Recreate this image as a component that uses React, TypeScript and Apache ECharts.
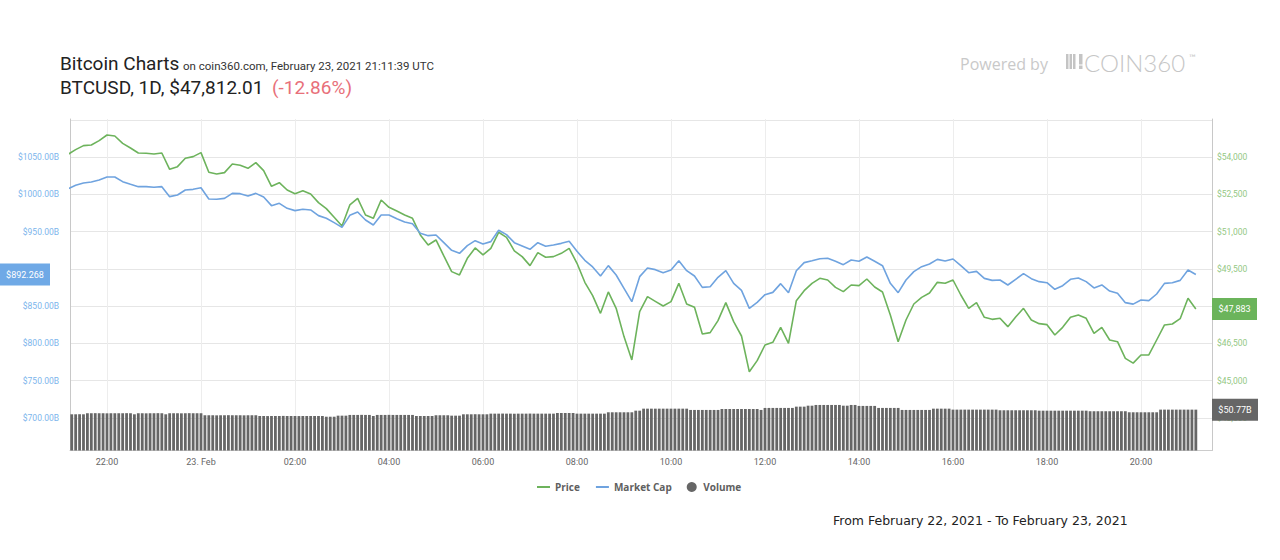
import React, { useEffect, useRef } from "react";
import * as echarts from "echarts";

// ---- time base (UTC, milliseconds) ----
const LINE_START = Date.UTC(2021, 1, 22, 21, 10);
const LINE_STEP_MIN = 10;
const VOLUME_START = Date.UTC(2021, 1, 22, 21, 15);
const VOLUME_STEP_MIN = 5;
const X_MIN = Date.UTC(2021, 1, 22, 21, 12, 47);
const X_MAX = Date.UTC(2021, 1, 23, 21, 30, 38);

// x-axis ticks and their labels
const TICK_TIMES = [
  Date.UTC(2021, 1, 22, 22), Date.UTC(2021, 1, 23, 0), Date.UTC(2021, 1, 23, 2),
  Date.UTC(2021, 1, 23, 4), Date.UTC(2021, 1, 23, 6), Date.UTC(2021, 1, 23, 8),
  Date.UTC(2021, 1, 23, 10), Date.UTC(2021, 1, 23, 12), Date.UTC(2021, 1, 23, 14),
  Date.UTC(2021, 1, 23, 16), Date.UTC(2021, 1, 23, 18), Date.UTC(2021, 1, 23, 20),
];
const TICK_LABELS = ["22:00", "23. Feb", "02:00", "04:00", "06:00", "08:00", "10:00", "12:00", "14:00", "16:00", "18:00", "20:00"];

// axis labels hidden behind the last-value badges
const HIDDEN_MCAP_LABELS = [900];
const HIDDEN_PRICE_LABELS = [48000];

// Price, USD (10-minute samples)
const PRICE = [
  54100, 54296, 54457, 54484, 54658, 54886, 54846, 54551, 54363, 54161,
  54148, 54121, 54161, 53504, 53611, 53947, 54014, 54175, 53383, 53316,
  53370, 53719, 53665, 53544, 53772, 53450, 52819, 52967, 52672, 52524,
  52645, 52511, 52162, 51920, 51571, 51222, 52068, 52336, 51665, 51531,
  52269, 51974, 51826, 51665, 51531, 50860, 50458, 50659, 50015, 49384,
  49250, 49921, 50337, 50055, 50323, 50968, 50766, 50216, 49988, 49625,
  50149, 49961, 49988, 50122, 50323, 49719, 48955, 48418, 47706, 48565,
  47907, 46767, 45830, 47772, 48376, 48188, 48000, 48175, 48913, 48081,
  47947, 46873, 46927, 47410, 48134, 47370, 46792, 45350, 45800, 46430,
  46537, 47141, 46497, 48215, 48618, 48913, 49114, 49047, 48752, 48577,
  48846, 48819, 49087, 48765, 48564, 47638, 46564, 47437, 48081, 48349,
  48524, 48953, 48913, 49047, 48443, 47906, 48134, 47544, 47463, 47504,
  47168, 47557, 47906, 47437, 47289, 47249, 46833, 47141, 47544, 47638,
  47504, 46900, 47141, 46631, 46564, 45893, 45700, 46028, 46028, 46631,
  47236, 47276, 47490, 48309, 47883,
];

// Market cap, billions USD (10-minute samples)
const MARKET_CAP = [
  1007.0, 1012.0, 1015.1, 1016.5, 1019.1, 1023.2, 1023.2, 1016.9, 1013.3, 1010.2,
  1010.2, 1009.3, 1010.2, 996.8, 999.0, 1005.7, 1006.6, 1008.8, 993.6, 993.2,
  994.5, 1001.2, 1000.8, 997.7, 1001.2, 996.3, 984.7, 987.8, 981.1, 978.0,
  979.8, 978.9, 971.3, 967.7, 961.9, 955.6, 971.7, 976.2, 965.4, 958.7,
  972.2, 972.2, 967.2, 962.8, 960.5, 947.6, 944.4, 945.3, 935.0, 924.7,
  920.7, 931.0, 937.7, 933.2, 936.4, 951.6, 945.8, 935.0, 930.6, 926.1,
  935.0, 930.1, 931.9, 934.1, 936.8, 923.4, 911.3, 902.4, 890.3, 904.2,
  891.6, 873.7, 855.8, 889.4, 901.0, 898.8, 894.7, 898.3, 910.8, 897.4,
  890.3, 875.0, 875.9, 888.5, 897.4, 880.4, 871.0, 846.9, 854.9, 865.2,
  868.3, 880.0, 867.9, 897.4, 908.2, 910.8, 913.5, 914.0, 910.0, 905.5,
  911.7, 910.0, 915.8, 910.0, 904.1, 880.4, 867.9, 884.9, 896.1, 902.8,
  906.4, 912.6, 910.4, 913.1, 904.1, 894.7, 896.5, 887.1, 884.4, 884.9,
  878.2, 885.8, 893.4, 886.7, 882.7, 881.3, 872.4, 877.3, 885.8, 887.6,
  882.7, 874.2, 878.2, 870.1, 867.0, 854.5, 852.5, 858.0, 857.2, 866.1,
  880.4, 881.3, 884.4, 898.3, 892.268,
];

// Volume, billions USD (5-minute samples, one row per hour)
const VOLUME = [
  45.0, 45.0, 45.1, 45.0, 46.3, 46.3, 46.4, 46.3, 46.3, 46.2, 46.3, 46.3,
  46.3, 46.3, 46.4, 46.3, 45.0, 46.3, 46.3, 46.2, 46.3, 46.3, 46.4, 46.3,
  45.0, 46.3, 46.3, 46.3, 46.2, 46.3, 46.4, 46.3, 46.3, 46.3, 43.8, 43.8,
  43.8, 43.7, 43.8, 43.8, 43.9, 43.8, 43.8, 43.8, 43.7, 43.8, 43.8, 43.8,
  42.9, 42.9, 42.8, 42.9, 42.9, 42.9, 43.0, 42.9, 42.9, 42.9, 42.8, 42.9,
  42.9, 42.9, 42.9, 42.9, 42.9, 42.0, 42.0, 42.0, 43.3, 43.3, 43.3, 44.2,
  44.2, 44.2, 44.3, 44.2, 44.2, 42.9, 44.2, 44.2, 44.2, 44.3, 44.2, 44.2,
  44.2, 44.2, 44.2, 44.2, 42.9, 42.9, 42.9, 42.9, 42.9, 43.8, 43.8, 43.8,
  43.8, 43.3, 43.3, 43.3, 45.0, 45.0, 45.0, 45.1, 45.0, 45.0, 45.0, 45.8,
  45.8, 45.8, 45.9, 45.8, 45.8, 45.7, 45.8, 45.8, 45.8, 45.9, 45.8, 45.8,
  45.8, 45.8, 45.8, 45.8, 46.6, 46.6, 46.6, 46.6, 46.6, 45.8, 45.8, 45.8,
  45.8, 45.8, 45.8, 45.8, 45.8, 47.5, 47.5, 47.5, 47.5, 47.5, 47.5, 47.5,
  49.5, 49.5, 52.0, 52.0, 52.0, 52.0, 52.0, 52.0, 52.0, 52.0, 52.0, 52.0,
  52.0, 52.0, 50.4, 50.4, 50.4, 50.4, 50.4, 50.4, 50.4, 50.4, 51.6, 51.6,
  51.6, 51.6, 51.6, 51.6, 51.6, 51.6, 51.6, 51.6, 50.4, 52.9, 52.9, 52.9,
  52.9, 52.9, 52.9, 52.9, 52.9, 54.5, 54.5, 54.5, 55.7, 55.7, 56.6, 56.6,
  56.6, 56.6, 56.6, 56.6, 56.6, 55.7, 55.7, 56.6, 56.6, 55.4, 55.4, 55.4,
  55.4, 55.4, 52.9, 52.9, 52.9, 52.9, 52.9, 52.9, 50.4, 50.4, 50.4, 50.4,
  50.4, 50.4, 50.4, 50.4, 52.0, 52.0, 52.0, 52.0, 52.0, 50.8, 50.8, 50.8,
  50.8, 50.8, 50.8, 50.8, 50.8, 50.8, 50.8, 50.8, 50.8, 50.0, 50.0, 50.0,
  50.0, 50.0, 50.0, 50.0, 50.0, 50.0, 50.0, 49.5, 49.5, 49.5, 49.5, 49.5,
  49.5, 49.5, 49.5, 49.5, 49.5, 49.5, 49.5, 49.5, 48.8, 48.8, 48.8, 48.8,
  48.8, 48.8, 48.8, 48.8, 48.8, 48.8, 47.5, 47.5, 47.5, 47.5, 47.5, 47.5,
  47.5, 47.5, 50.8, 50.8, 50.8, 50.8, 50.8, 50.8, 50.8, 50.8, 50.8, 50.77,
];

const LAST_PRICE = 47883;
const LAST_MCAP = 892.268;
const LAST_VOLUME = 50.77;

const GREEN = "#6db35c";
const BLUE = "#6fa3df";
const GREY = "#666666";

function fmtThousands(v: number): string {
  return Math.round(v).toString().replace(/\B(?=(\d{3})+(?!\d))/g, ",");
}

export default function App() {
  const ref = useRef<HTMLDivElement>(null);

  useEffect(() => {
    const el = ref.current;
    if (!el) return;
    const chart = echarts.init(el, null, { renderer: "svg" });

    const priceData = PRICE.map((v, i) => [LINE_START + i * LINE_STEP_MIN * 60000, v]);
    const mcapData = MARKET_CAP.map((v, i) => [LINE_START + i * LINE_STEP_MIN * 60000, v]);
    const volData = VOLUME.map((v, i) => [VOLUME_START + i * VOLUME_STEP_MIN * 60000, v]);

    const option: any = {
      animation: false,
      backgroundColor: "#ffffff",
      textStyle: { fontFamily: "Roboto" },
      grid: [
        { left: 70, right: 68, top: 119.75, height: 335.25 },
        { left: 70, right: 68, top: 119, height: 331.5 },
      ],
      xAxis: [
        { type: "value", gridIndex: 0, min: X_MIN, max: X_MAX, show: false },
        {
          type: "value",
          gridIndex: 1,
          min: X_MIN,
          max: X_MAX,
          axisLine: { show: true, onZero: false, lineStyle: { color: "#cccccc", width: 1 } },
          axisTick: { show: false, customValues: TICK_TIMES },
          axisLabel: {
            customValues: TICK_TIMES,
            formatter: (v: number) => {
              const idx = TICK_TIMES.indexOf(v);
              return idx >= 0 ? TICK_LABELS[idx] : "";
            },
            color: "#666666",
            fontSize: 9,
            margin: 7,
            fontFamily: "Roboto",
          },
          splitLine: { show: true, lineStyle: { color: "#ededed", width: 1 } },
        },
      ],
      yAxis: [
        {
          type: "value",
          gridIndex: 0,
          position: "left",
          min: 650,
          max: 1100,
          interval: 50,
          axisLine: { show: false },
          axisTick: { show: false },
          axisLabel: {
            formatter: (v: number) => (HIDDEN_MCAP_LABELS.indexOf(v) >= 0 ? "" : "$" + v.toFixed(2) + "B"),
            color: "#7cb5ec",
            fontSize: 8.5,
            margin: 11,
            showMinLabel: false,
            showMaxLabel: false,
            fontFamily: "Roboto",
          },
          splitLine: { show: true, showMinLine: false, lineStyle: { color: "#e6e6e6", width: 1 } },
        },
        {
          type: "value",
          gridIndex: 0,
          position: "right",
          min: 42000,
          max: 55500,
          interval: 1500,
          axisLine: { show: false },
          axisTick: { show: false },
          axisLabel: {
            formatter: (v: number) => (HIDDEN_PRICE_LABELS.indexOf(v) >= 0 ? "" : "$" + fmtThousands(v)),
            color: "#94c884",
            fontSize: 8.5,
            margin: 5,
            showMinLabel: false,
            showMaxLabel: false,
            fontFamily: "Roboto",
          },
          splitLine: { show: false },
        },
        {
          type: "value",
          gridIndex: 1,
          position: "left",
          min: 0,
          max: 412,
          axisLine: { show: true, onZero: false, lineStyle: { color: "#c8c8c8", width: 1 } },
          axisTick: { show: false },
          axisLabel: { show: false },
          splitLine: { show: false },
        },
        {
          type: "value",
          gridIndex: 1,
          position: "right",
          min: 0,
          max: 412,
          axisLine: { show: true, onZero: false, lineStyle: { color: "#c8c8c8", width: 1 } },
          axisTick: { show: false },
          axisLabel: { show: false },
          splitLine: { show: false },
        },
      ],
      legend: {
        left: 536,
        top: 482,
        padding: 0,
        itemWidth: 13,
        itemHeight: 10,
        itemGap: 15,
        textStyle: { fontSize: 10, fontWeight: "bold", color: "#606060", fontFamily: "Open Sans" },
        data: [
          { name: "Price", itemStyle: { opacity: 0 } },
          { name: "Market Cap", itemStyle: { opacity: 0 } },
          { name: "Volume", icon: "circle" },
        ],
      },
      series: [
        {
          name: "Price",
          type: "line",
          xAxisIndex: 0,
          yAxisIndex: 1,
          data: priceData,
          symbol: "none",
          lineStyle: { color: GREEN, width: 1.6 },
          itemStyle: { color: GREEN },
          z: 3,
        },
        {
          name: "Market Cap",
          type: "line",
          xAxisIndex: 0,
          yAxisIndex: 0,
          data: mcapData,
          symbol: "none",
          lineStyle: { color: BLUE, width: 1.6 },
          itemStyle: { color: BLUE },
          z: 3,
        },
        {
          name: "Volume",
          type: "bar",
          xAxisIndex: 1,
          yAxisIndex: 2,
          data: volData,
          barWidth: 2.8,
          itemStyle: { color: GREY },
          z: 2,
        },
      ],
    };

    chart.setOption(option);

    const yMcap = chart.convertToPixel({ yAxisIndex: 0 }, LAST_MCAP) as number;
    const yPrice = chart.convertToPixel({ yAxisIndex: 1 }, LAST_PRICE) as number;
    const yVol = chart.convertToPixel({ yAxisIndex: 2 }, LAST_VOLUME) as number;

    const badgeText = (x: number, y: number, text: string) => ({
      type: "text",
      x,
      y,
      z: 101,
      style: { text, fill: "#ffffff", fontSize: 9, fontFamily: "Roboto", align: "center", verticalAlign: "middle" },
    });

    const graphics: any[] = [
      { type: "text", x: 60, y: 63, style: { text: "Bitcoin Charts", fontSize: 19, fontFamily: "Roboto", fill: "#222222", align: "left", verticalAlign: "middle" } },
      { type: "text", x: 183, y: 65.5, style: { text: "on coin360.com, February 23, 2021 21:11:39 UTC", fontSize: 11.5, fontFamily: "Roboto", fill: "#333333", align: "left", verticalAlign: "middle" } },
      { type: "text", x: 60, y: 87, style: { text: "BTCUSD, 1D, $47,812.01", fontSize: 19, fontFamily: "Roboto", fill: "#222222", align: "left", verticalAlign: "middle" } },
      { type: "text", x: 272, y: 87, style: { text: "(-12.86%)", fontSize: 19, fontFamily: "Roboto", fill: "#e8707a", align: "left", verticalAlign: "middle" } },
      { type: "text", x: 960, y: 64, style: { text: "Powered by", fontSize: 16, fontFamily: "Open Sans", fill: "#c9c9c9", align: "left", verticalAlign: "middle" } },
      { type: "rect", shape: { x: 1066, y: 54, width: 2.5, height: 15 }, style: { fill: "#c4c4c4" } },
      { type: "rect", shape: { x: 1069.5, y: 54, width: 2.5, height: 15 }, style: { fill: "#c4c4c4" } },
      { type: "rect", shape: { x: 1073, y: 54, width: 2.5, height: 15 }, style: { fill: "#c4c4c4" } },
      { type: "rect", shape: { x: 1079, y: 54, width: 3.5, height: 10.5 }, style: { fill: "#c4c4c4" } },
      { type: "rect", shape: { x: 1079, y: 65.5, width: 3.5, height: 3.5 }, style: { fill: "#c4c4c4" } },
      { type: "text", x: 1084, y: 62, style: { text: "COIN360", fontSize: 24, fontWeight: 300, fontFamily: "Lato", fill: "#c6c6c6", align: "left", verticalAlign: "middle" } },
      { type: "text", x: 1189, y: 57, style: { text: "™", fontSize: 9, fontFamily: "Lato", fill: "#c6c6c6", align: "left", verticalAlign: "middle" } },
      { type: "text", x: 833, y: 520, style: { text: "From February 22, 2021 - To February 23, 2021", fontSize: 12.5, fontFamily: "DejaVu Sans", fill: "#222222", align: "left", verticalAlign: "middle" } },
      { type: "rect", z: 100, shape: { x: 0, y: yMcap - 11, width: 50, height: 22 }, style: { fill: "#6fa9e6" } },
      badgeText(25, yMcap, "$" + LAST_MCAP.toFixed(3)),
      { type: "rect", z: 100, shape: { x: 1212, y: yPrice - 11, width: 45, height: 22 }, style: { fill: "#6bb45b" } },
      badgeText(1234.5, yPrice, "$" + fmtThousands(LAST_PRICE)),
      { type: "rect", z: 100, shape: { x: 1212, y: yVol - 11, width: 46, height: 22 }, style: { fill: "#666666" } },
      badgeText(1235, yVol, "$" + LAST_VOLUME.toFixed(2) + "B"),
    ];

    chart.setOption({ graphic: graphics });

    return () => {
      chart.dispose();
    };
  }, []);

  return (
    <div
      ref={ref}
      style={{ position: "fixed", left: 0, top: 0, width: 1280, height: 560, background: "#ffffff" }}
    />
  );
}
